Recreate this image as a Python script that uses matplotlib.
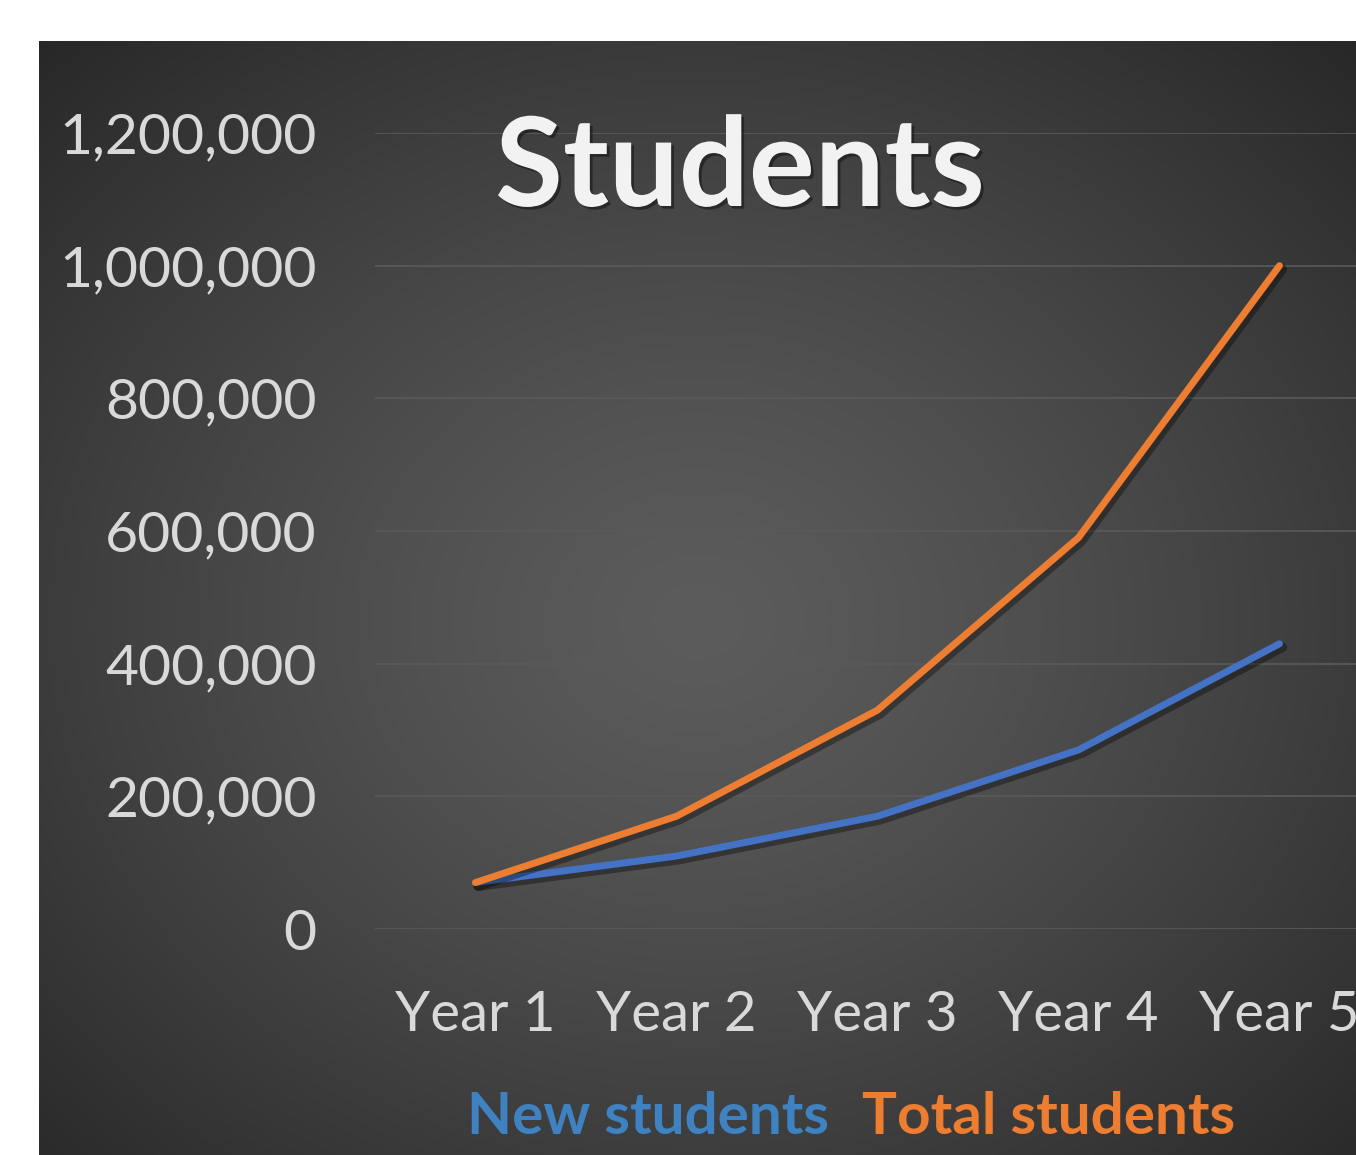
import numpy as np
import matplotlib; matplotlib.use("Agg")
import matplotlib.pyplot as plt
import matplotlib.patheffects as pe
from matplotlib.ticker import FuncFormatter

W, H = 1356, 1155
years = ["Year 1", "Year 2", "Year 3", "Year 4", "Year 5"]
new_students = [70000, 110000, 170000, 270000, 430000]
total_students = [70000, 170000, 330000, 590000, 1000000]
BLUE = "#4472c4"; ORANGE = "#ed7d31"; LEG_BLUE = "#3e82c2"; GRID = "#5a5a5a"; TXT = "#d9d9d9"
FONT = "Lato"

fig = plt.figure(figsize=(W/100, H/100), dpi=100, facecolor="white")

# dark panel with radial gradient
px0, py0 = 39, 41
bg = fig.add_axes([px0/W, 0, 1-px0/W, 1-py0/H]); bg.axis("off")
gw, gh = W-px0, H-py0
yy, xx = np.mgrid[0:gh, 0:gw]
cx, cy = gw*0.50, gh*0.52
r = np.sqrt(((xx-cx)/(gw*0.75))**2 + ((yy-cy)/(gh*0.75))**2)
r = np.clip(r, 0, 1)
v = (0x5c + (0x25-0x5c)*r**1.3)/255.0
bg.imshow(np.dstack([v, v, v]), aspect="auto", extent=[0, 1, 0, 1], interpolation="bilinear")
bg.set_xlim(0, 1); bg.set_ylim(0, 1)

# plot area
left, right, top, bot = 375, 1380, 133, 929
ax = fig.add_axes([left/W, 1-bot/H, (right-left)/W, (bot-top)/H])
ax.patch.set_alpha(0)
x = np.arange(len(years))
shadow = [pe.SimpleLineShadow(offset=(2, -2.5), shadow_color="black", alpha=0.35, linewidth=7), pe.Normal()]
ax.plot(x, new_students, color=BLUE, lw=5, solid_capstyle="round", path_effects=shadow, zorder=3)
ax.plot(x, total_students, color=ORANGE, lw=5, solid_capstyle="round", path_effects=shadow, zorder=4)
ax.set_xlim(-0.5, len(years)-0.5)
ax.set_ylim(0, 1200000)
ax.set_yticks(np.arange(0, 1200001, 200000))
ax.yaxis.set_major_formatter(FuncFormatter(lambda val, p: f"{int(val):,}"))
ax.set_xticks(x); ax.set_xticklabels(years)
ax.grid(axis="y", color=GRID, lw=1.2, zorder=0)
ax.set_axisbelow(True)
for s in ax.spines.values(): s.set_visible(False)
ax.tick_params(length=0, colors=TXT)
ax.tick_params(axis="y", pad=42, labelsize=41)
ax.tick_params(axis="x", pad=44, labelsize=40.5)
for lab in ax.get_xticklabels() + ax.get_yticklabels():
    lab.set_fontfamily(FONT)

fig.text(740/W, 1-170/H, "Students", ha="center", va="center", fontsize=89, fontweight="bold",
         family=FONT, color="#f2f2f2",
         path_effects=[pe.withSimplePatchShadow(offset=(2, -2), shadow_rgbFace="black", alpha=0.4)])
fig.text(829/W, 1-1117/H, "New students", ha="right", va="center", fontsize=42, fontweight="bold",
         family=FONT, color=LEG_BLUE)
fig.text(862/W, 1-1117/H, "Total students", ha="left", va="center", fontsize=42, fontweight="bold",
         family=FONT, color=ORANGE)

fig.savefig("out.png", dpi=100, facecolor="white")
